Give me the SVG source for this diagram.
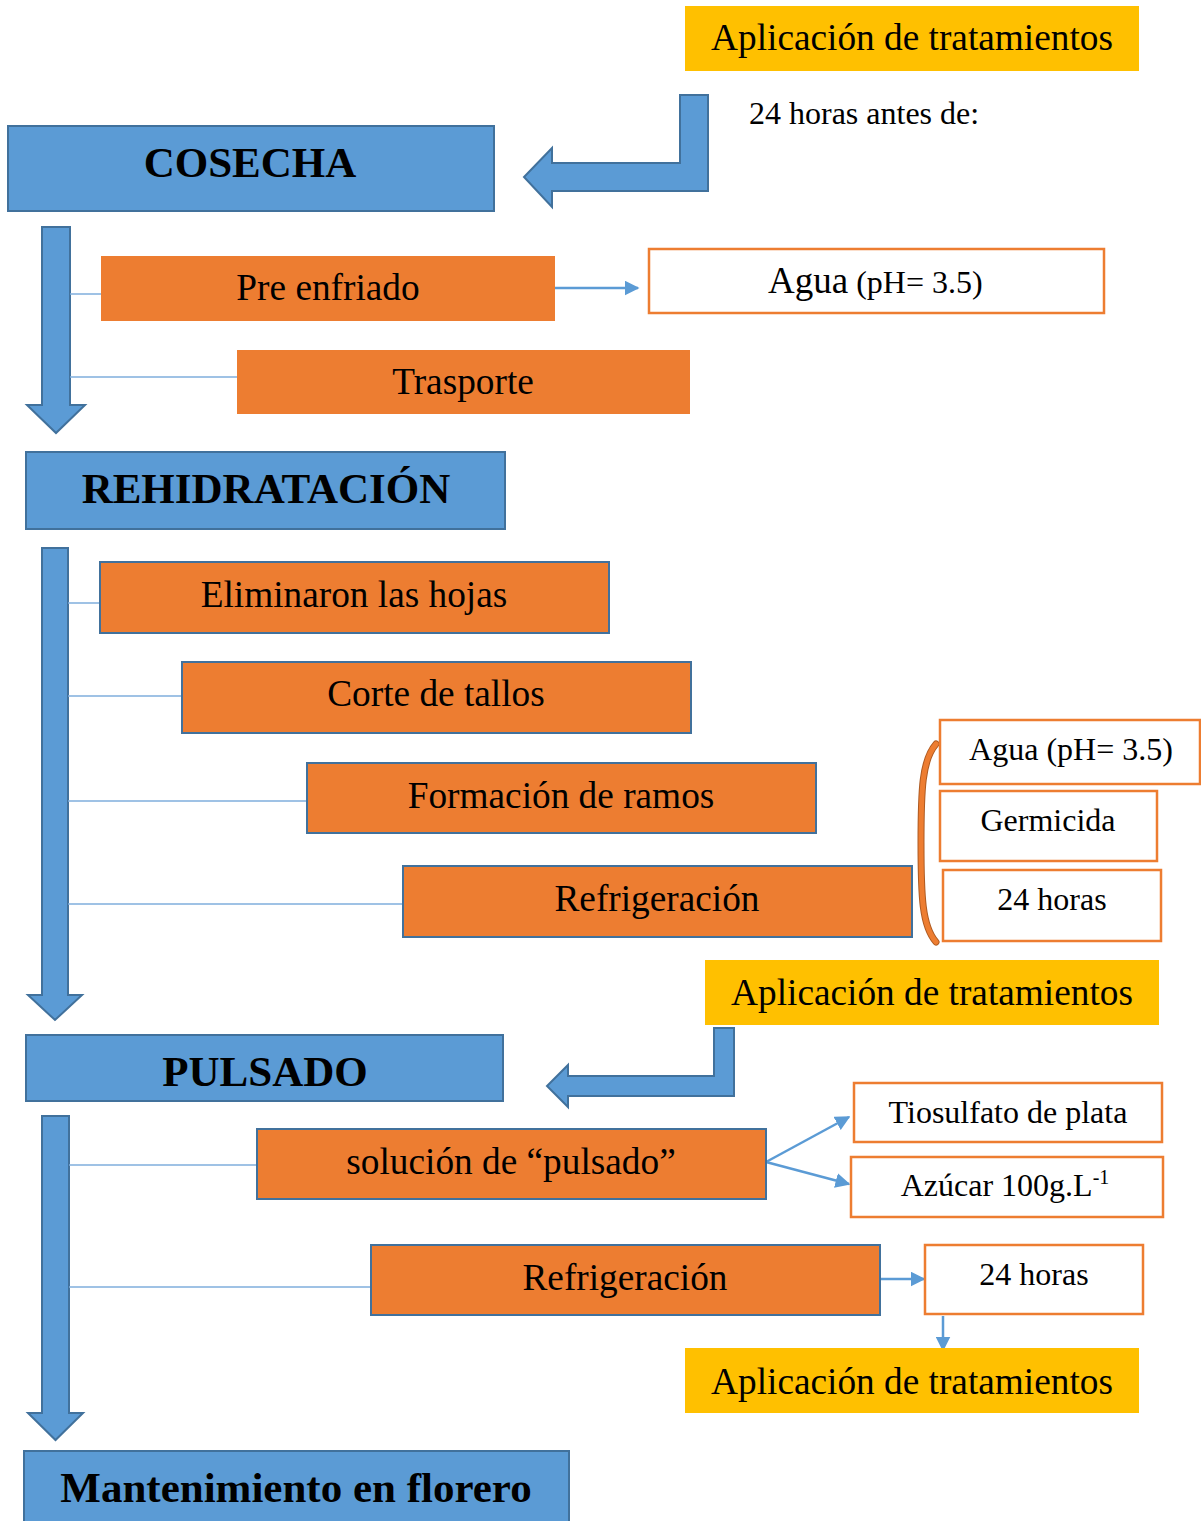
<svg xmlns="http://www.w3.org/2000/svg" width="1201" height="1521" viewBox="0 0 1201 1521">
<defs>
<style>
.blue{fill:#5B9BD5;stroke:#41719C;stroke-width:2}
.org{fill:#ED7D31}
.orgb{fill:#ED7D31;stroke:#41719C;stroke-width:2}
.yel{fill:#FFC000}
.wht{fill:#FFFFFF;stroke:#ED7D31;stroke-width:2.5}
.t{font-family:"Liberation Serif","Times New Roman",serif;fill:#000;text-anchor:middle}
.tb{font-family:"Liberation Serif","Times New Roman",serif;font-weight:bold;font-size:43px;fill:#000;text-anchor:middle}
.s36{font-size:37.3px}
.s32{font-size:32px}
.con{stroke:#7FAEDC;stroke-width:1.5;fill:none}
.arr{stroke:#5B9BD5;stroke-width:2.5;fill:none;marker-end:url(#ah)}
</style>
<marker id="ah" viewBox="0 0 10 10" refX="9" refY="5" markerWidth="6" markerHeight="6" markerUnits="strokeWidth" orient="auto">
<path d="M0,0 L10,5 L0,10 Z" fill="#5B9BD5"/>
</marker>
</defs>

<g id="connectors">
<path class="blue" d="M42,227 H70 V405 H85 L56,433 L27,405 H42 Z"/>
<path class="blue" d="M42,548 H68 V995 H82 L55,1020 L28,995 H42 Z"/>
<path class="blue" d="M42,1116 H69 V1413 H83 L55.5,1440 L28,1413 H42 Z"/>
<path class="blue" d="M680,95 H708 V191 H552 V207 L524,177 L552,148 V163 H680 Z"/>
<path class="blue" d="M714,1028 H734 V1096 H568 V1107 L547,1086 L568,1065 V1076 H714 Z"/>
<line class="con" x1="70" y1="294" x2="101" y2="294"/>
<line class="con" x1="70" y1="377" x2="237" y2="377"/>
<line class="con" x1="68" y1="603" x2="100" y2="603"/>
<line class="con" x1="68" y1="696" x2="182" y2="696"/>
<line class="con" x1="68" y1="801" x2="307" y2="801"/>
<line class="con" x1="68" y1="904" x2="403" y2="904"/>
<line class="con" x1="69" y1="1165" x2="257" y2="1165"/>
<line class="con" x1="69" y1="1287" x2="371" y2="1287"/>
<line class="arr" x1="555" y1="288" x2="638" y2="288"/>
<line class="arr" x1="766" y1="1162" x2="849" y2="1117"/>
<line class="arr" x1="766" y1="1162" x2="849" y2="1184"/>
<line class="arr" x1="881" y1="1279" x2="924" y2="1279"/>
<line class="arr" x1="943" y1="1316" x2="943" y2="1350"/>
<path d="M936,744 C922,760 921,790 921,843 C921,896 922,926 936,942" fill="none" stroke="#AE5A21" stroke-width="7" stroke-linecap="round"/>
<path d="M936,744 C922,760 921,790 921,843 C921,896 922,926 936,942" fill="none" stroke="#ED7D31" stroke-width="5" stroke-linecap="round"/>
</g>

<g id="aplic1"><rect class="yel" x="685" y="6" width="454" height="65"/><text class="t s36" x="912" y="50">Aplicación de tratamientos</text></g>
<g id="antes"><text class="t s32" x="749" y="124" style="text-anchor:start">24 horas antes de:</text></g>
<g id="cosecha"><rect class="blue" x="8" y="126" width="486" height="85"/><text class="tb" x="250" y="177">COSECHA</text></g>
<g id="preenfriado"><rect class="org" x="101" y="256" width="454" height="65"/><text class="t s36" x="328" y="300">Pre enfriado</text></g>
<g id="agua1"><rect class="wht" x="649" y="249" width="455" height="64"/><text class="t s32" x="768" y="293" style="text-anchor:start"><tspan style="font-size:37px">Agua</tspan> (pH= 3.5)</text></g>
<g id="trasporte"><rect class="org" x="237" y="350" width="453" height="64"/><text class="t s36" x="463" y="394">Trasporte</text></g>
<g id="rehidratacion"><rect class="blue" x="26" y="452" width="479" height="77"/><text class="tb" x="266" y="503">REHIDRATACIÓN</text></g>
<g id="eliminaron"><rect class="orgb" x="100" y="562" width="509" height="71"/><text class="t s36" x="354" y="607">Eliminaron las hojas</text></g>
<g id="corte"><rect class="orgb" x="182" y="662" width="509" height="71"/><text class="t s36" x="436" y="706">Corte de tallos</text></g>
<g id="formacion"><rect class="orgb" x="307" y="763" width="509" height="70"/><text class="t s36" x="561" y="808">Formación de ramos</text></g>
<g id="refrig1"><rect class="orgb" x="403" y="866" width="509" height="71"/><text class="t s36" x="657" y="911">Refrigeración</text></g>
<g id="agua2"><rect class="wht" x="940" y="720" width="260" height="64"/><text class="t s32" x="1071" y="760">Agua (pH= 3.5)</text></g>
<g id="germicida"><rect class="wht" x="940" y="791" width="217" height="70"/><text class="t s32" x="1048" y="831">Germicida</text></g>
<g id="horas1"><rect class="wht" x="943" y="870" width="218" height="71"/><text class="t s32" x="1052" y="910">24 horas</text></g>
<g id="aplic2"><rect class="yel" x="705" y="960" width="454" height="65"/><text class="t s36" x="932" y="1005">Aplicación de tratamientos</text></g>
<g id="pulsado"><rect class="blue" x="26" y="1035" width="477" height="66"/><text class="tb" x="265" y="1086">PULSADO</text></g>
<g id="solucion"><rect class="orgb" x="257" y="1129" width="509" height="70"/><text class="t s36" x="511" y="1174">solución de “pulsado”</text></g>
<g id="tiosulfato"><rect class="wht" x="854" y="1083" width="308" height="59"/><text class="t s32" x="1008" y="1123">Tiosulfato de plata</text></g>
<g id="azucar"><rect class="wht" x="851" y="1157" width="312" height="60"/><text class="t s32" x="1005" y="1196">Azúcar 100g.L<tspan dy="-12" style="font-size:20px">-1</tspan></text></g>
<g id="refrig2"><rect class="orgb" x="371" y="1245" width="509" height="70"/><text class="t s36" x="625" y="1290">Refrigeración</text></g>
<g id="horas2"><rect class="wht" x="925" y="1245" width="218" height="69"/><text class="t s32" x="1034" y="1285">24 horas</text></g>
<g id="aplic3"><rect class="yel" x="685" y="1348" width="454" height="65"/><text class="t s36" x="912" y="1394">Aplicación de tratamientos</text></g>
<g id="mantenimiento"><rect class="blue" x="24" y="1451" width="545" height="80"/><text class="tb" x="296" y="1502">Mantenimiento en florero</text></g>
</svg>
